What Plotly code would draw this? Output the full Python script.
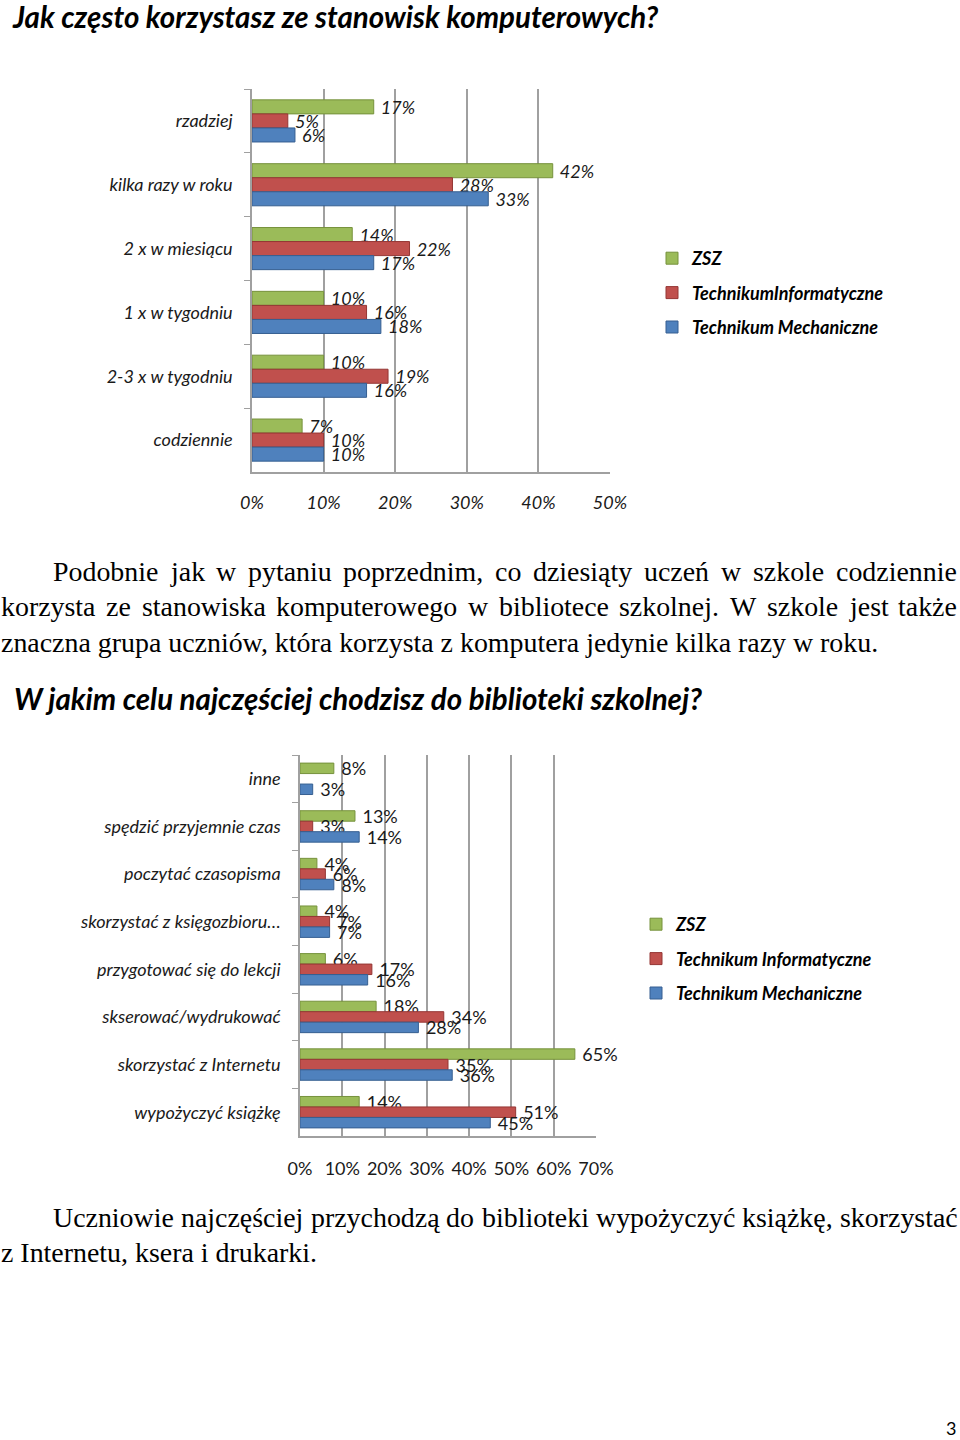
import unicodedata
import plotly.graph_objects as go

# ---------------- data ----------------
series_names_1 = ["ZSZ", "TechnikumInformatyczne", "Technikum Mechaniczne"]
series_names_2 = ["ZSZ", "Technikum Informatyczne", "Technikum Mechaniczne"]
colors = ["#9BBB59", "#C0504D", "#4F81BD"]
edge_colors = ["#76923C", "#943634", "#365F91"]

cats_1 = ["rzadziej", "kilka razy w roku", "2 x w miesiącu", "1 x w tygodniu",
          "2-3 x w tygodniu", "codziennie"]
zsz_1 = [17, 42, 14, 10, 10, 7]
ti_1 = [5, 28, 22, 16, 19, 10]
tm_1 = [6, 33, 17, 18, 16, 10]

cats_2 = ["inne", "spędzić przyjemnie czas", "poczytać czasopisma",
          "skorzystać z księgozbioru…", "przygotować się do lekcji",
          "skserować/wydrukować", "skorzystać z Internetu", "wypożyczyć książkę"]
zsz_2 = [8, 13, 4, 4, 6, 18, 65, 14]
ti_2 = [None, 3, 6, 7, 17, 34, 35, 51]
tm_2 = [3, 14, 8, 7, 16, 28, 36, 45]

ticks_1 = [0, 10, 20, 30, 40, 50]
ticks_2 = [0, 10, 20, 30, 40, 50, 60, 70]
ticktext_1 = [f"{t}%" for t in ticks_1]
ticktext_2 = [f"{t}%" for t in ticks_2]

title_1 = "Jak często korzystasz ze stanowisk komputerowych?"
title_2 = "W jakim celu najczęściej chodzisz do biblioteki szkolnej?"
para_1 = [
    ("Podobnie jak w pytaniu poprzednim, co dziesiąty uczeń w szkole codziennie", True),
    ("korzysta ze stanowiska komputerowego w bibliotece szkolnej. W szkole jest także", True),
    ("znaczna grupa uczniów, która korzysta z komputera jedynie kilka razy w roku.", False),
]
para_2 = [
    ("Uczniowie najczęściej przychodzą do biblioteki wypożyczyć książkę, skorzystać", True),
    ("z Internetu, ksera i drukarki.", False),
]
page_number = "3"

W, H = 960, 1440
def px(x):
    return x / W
def py(y):
    return 1 - y / H

SANS = "Lato, 'Open Sans', sans-serif"
SERIF = "'Liberation Serif', serif"
SERIF_SIZE = 27.9

# Times / Liberation Serif advance widths (1/1000 em), used to justify lines
_TW = dict(zip("abcdefghijklmnopqrstuvwxyz",
               [444, 500, 444, 500, 444, 333, 500, 500, 278, 278, 500, 278, 778,
                500, 500, 500, 500, 333, 389, 278, 500, 500, 722, 500, 500, 444]))
_TW.update(dict(zip("ABCDEFGHIJKLMNOPQRSTUVWXYZ",
                    [722, 667, 667, 722, 611, 556, 722, 722, 333, 389, 722, 611, 889,
                     722, 722, 556, 722, 667, 556, 611, 722, 722, 944, 722, 722, 611])))
_TW.update({" ": 250, ",": 250, ".": 250, "ł": 278, "Ł": 611})

def word_width(w, size):
    total = 0
    for ch in w:
        if ch not in _TW:
            ch = unicodedata.normalize("NFD", ch)[0]
        total += _TW.get(ch, 500)
    return total * size / 1000

fig = go.Figure()

def lbl(vals):
    # small leading space mimics the gap between the 3D bar end and its label
    return ["" if v is None else f"\u2005{v}%" for v in vals]

for i, vals in enumerate([zsz_1, ti_1, tm_1]):
    fig.add_trace(go.Bar(
        y=cats_1, x=vals, orientation="h", name=series_names_1[i],
        marker=dict(color=colors[i], line=dict(color=edge_colors[i], width=1)),
        text=lbl(vals), textposition="outside", constraintext="none",
        textfont=dict(family=SANS, size=18, color="#1a1a1a", style="italic"),
        cliponaxis=False, xaxis="x", yaxis="y", legend="legend",
        legendgroup=f"a{i}", hoverinfo="skip"))

for i, vals in enumerate([zsz_2, ti_2, tm_2]):
    fig.add_trace(go.Bar(
        y=cats_2, x=vals, orientation="h", name=series_names_2[i],
        marker=dict(color=colors[i], line=dict(color=edge_colors[i], width=1)),
        text=lbl(vals), textposition="outside", constraintext="none",
        textfont=dict(family=SANS, size=18, color="#1a1a1a"),
        cliponaxis=False, xaxis="x2", yaxis="y2", legend="legend2",
        legendgroup=f"b{i}", hoverinfo="skip"))

grid = "#A0A0A0"
axis_common = dict(showgrid=True, gridcolor=grid, gridwidth=1.5, zeroline=False,
                   showline=True, linecolor=grid, linewidth=1.5, ticks="",
                   tickmode="array", fixedrange=True, automargin=False)
yaxis_common = dict(autorange="reversed", type="category", showline=True,
                    linecolor=grid, linewidth=1.5, ticks="outside",
                    tickson="boundaries", ticklen=6, tickcolor=grid,
                    ticklabelstandoff=14, showgrid=False, fixedrange=True,
                    automargin=False,
                    tickfont=dict(family=SANS, size=18, color="#1a1a1a", style="italic"))
legend_font = dict(family=SANS, size=18, color="#000", weight="bold", style="italic")

fig.update_layout(
    width=W, height=H, margin=dict(l=0, r=0, t=0, b=0, pad=0, autoexpand=False),
    paper_bgcolor="white", plot_bgcolor="white",
    barmode="group", bargap=0.34, bargroupgap=0,
    showlegend=True, hovermode=False,
    xaxis=dict(domain=[px(252), px(610)], range=[0, 50], tickvals=ticks_1,
               ticktext=ticktext_1, anchor="y", ticklabelstandoff=14,
               tickfont=dict(family=SANS, size=18, color="#1a1a1a", style="italic"),
               **axis_common),
    yaxis=dict(domain=[py(472), py(89)], anchor="x", **yaxis_common),
    xaxis2=dict(domain=[px(300), px(596)], range=[0, 70], tickvals=ticks_2,
                ticktext=ticktext_2, anchor="y2", ticklabelstandoff=16,
                tickfont=dict(family=SANS, size=18, color="#1a1a1a"),
                **axis_common),
    yaxis2=dict(domain=[py(1136), py(755)], anchor="x2", **yaxis_common),
    legend=dict(x=px(652), y=py(240), xanchor="left", yanchor="top",
                tracegroupgap=8, traceorder="grouped", font=legend_font,
                bgcolor="rgba(0,0,0,0)", itemclick=False, itemdoubleclick=False),
    legend2=dict(x=px(636), y=py(906), xanchor="left", yanchor="top",
                 tracegroupgap=8, traceorder="grouped", font=legend_font,
                 bgcolor="rgba(0,0,0,0)", itemclick=False, itemdoubleclick=False),
)

ann = []
def title(text, x, y):
    ann.append(dict(text=text, x=px(x), y=py(y), xref="paper", yref="paper",
                    xanchor="left", yanchor="middle", showarrow=False,
                    font=dict(family=SANS, size=29.5, color="#000", weight="bold", style="italic")))

def text_at(text, x, y):
    ann.append(dict(text=text, x=px(x), y=py(y), xref="paper", yref="paper",
                    xanchor="left", yanchor="middle", showarrow=False, borderpad=0,
                    font=dict(family=SERIF, size=SERIF_SIZE, color="#000")))

def para(lines, x0, x_first, x_end, y0, dy):
    for k, (line, justify) in enumerate(lines):
        y = y0 + k * dy
        xs = x_first if k == 0 else x0
        if not justify:
            text_at(line, xs, y)
            continue
        words = line.split(" ")
        widths = [word_width(w, SERIF_SIZE) for w in words]
        gap = (x_end - xs - sum(widths)) / (len(words) - 1)
        x = xs
        for w, wd in zip(words, widths):
            text_at(w, x, y)
            x += wd + gap

title(title_1, 10, 17)
title(title_2, 12, 699)
para(para_1, 0, 52, 956, 571, 35.5)
para(para_2, 0, 52, 957, 1217, 35.5)
ann.append(dict(text=page_number, x=px(958), y=py(1428), xref="paper", yref="paper",
                xanchor="right", yanchor="middle", showarrow=False,
                font=dict(family=SANS, size=18, color="#000")))
fig.update_layout(annotations=ann)

fig.write_html(
    "out.html",
    config={"displayModeBar": False, "staticPlot": False},
    post_script="document.body.style.margin='0px';document.body.style.overflow='hidden';document.documentElement.style.overflow='hidden';",
)
